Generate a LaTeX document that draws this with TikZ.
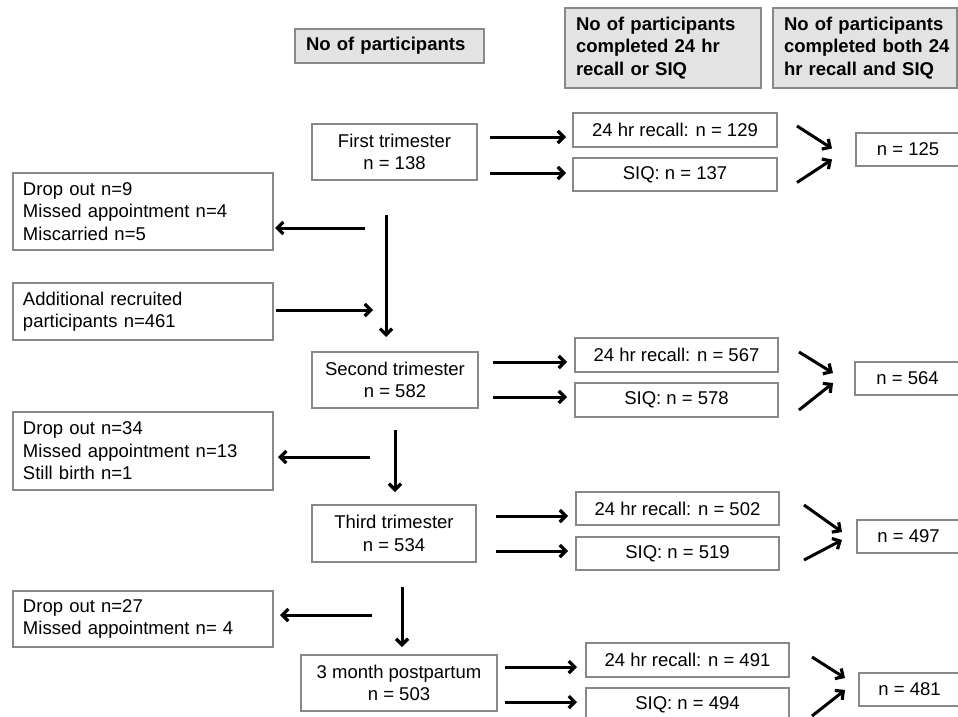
\documentclass[tikz,border=0pt]{standalone}
\usepackage{fontspec}
\setmainfont{Liberation Sans}
\usetikzlibrary{arrows.meta,calc}
\definecolor{bgray}{HTML}{888888}
\definecolor{hfill}{HTML}{E3E3E3}
\newcommand\fs{\fontsize{18.5}{22.5}\selectfont}
\newcommand\mybox[7]{\node[#1, minimum width={(#5-#3)*1pt}, minimum height={(#6-#4)*1pt}] (#2) at (#3,#4) {#7};}
\tikzset{
  box/.style={draw=bgray, line width=2pt, anchor=north west, inner xsep=10pt, inner ysep=0pt,
    outer sep=0pt, font=\fs, align=center},
  lbox/.style={box, align=left},
  hdr/.style={box, fill=hfill, line width=2.6pt, font=\fs\bfseries, align=left},
  arr/.style={-{Straight Barb[length=6pt,width=12pt,line width=3.2pt]}, line width=3pt, black},
}
\begin{document}
\begin{tikzpicture}[x=1pt,y=-1pt]
\clip (0,0) rectangle (958,717);
% headers
\mybox{hdr, text width=167pt}{h1}{295}{29}{484}{63}{No of participants}
\mybox{hdr, text width=174pt}{h2}{565}{8}{761}{88}{\mbox{No of participants}\\\mbox{completed 24 hr}\\\mbox{recall or SIQ}}
\mybox{hdr, text width=162pt, inner xsep=11pt}{h3}{773}{8}{957}{88}{\mbox{No of participants}\\\mbox{completed both 24}\\\mbox{hr recall and SIQ}}
% row 1
\mybox{box}{ft}{312}{124}{477}{180}{First trimester\\n = 138}
\mybox{box}{r1a}{573}{113}{777}{147}{24 hr recall: n = 129}
\mybox{box}{r1b}{573}{158}{777}{191}{SIQ: n = 137}
\mybox{box}{b1}{856}{133}{960}{166}{n = 125}
\mybox{lbox, text width=240pt}{d1}{13}{173}{273}{250}{Drop out n=9\\Missed appointment n=4\\Miscarried n=5}
\mybox{lbox, text width=240pt}{add}{13}{283}{273}{340}{Additional recruited\\participants n=461}
% row 2
\mybox{box}{st}{312}{352}{478}{408}{Second trimester\\n = 582}
\mybox{box}{r2a}{575}{338}{778}{372}{24 hr recall: n = 567}
\mybox{box}{r2b}{575}{383}{778}{417}{SIQ: n = 578}
\mybox{box}{b2}{855}{362}{960}{395}{n = 564}
\mybox{lbox, text width=240pt}{d2}{13}{412}{273}{490}{Drop out n=34\\Missed appointment n=13\\Still birth n=1}
% row 3
\mybox{box}{tt}{312}{505}{476}{562}{Third trimester\\n = 534}
\mybox{box}{r3a}{576}{492}{779}{525}{24 hr recall: n = 502}
\mybox{box}{r3b}{576}{537}{779}{570}{SIQ: n = 519}
\mybox{box}{b3}{857}{520}{960}{553}{n = 497}
\mybox{lbox, text width=240pt}{d3}{13}{591}{273}{647}{Drop out n=27\\Missed appointment n= 4}
% row 4
\mybox{box}{pp}{301}{655}{497}{711}{3 month postpartum\\n = 503}
\mybox{box}{r4a}{586}{643}{789}{677}{24 hr recall: n = 491}
\mybox{box}{r4b}{586}{688}{789}{722}{SIQ: n = 494}
\mybox{box}{b4}{859}{673}{960}{706}{n = 481}
% arrows row 1
\draw[arr, shorten <=13pt, shorten >=7pt] (ft.east |- 0,137) -- (r1a.west |- 0,137);
\draw[arr, shorten <=13pt, shorten >=7pt] (ft.east |- 0,173) -- (r1b.west |- 0,173);
\draw[arr] ($(r1a.east)+(20,-4)$) -- ($(b1.west)+(-24,-1)$);
\draw[arr] ($(r1b.east)+(20,8)$) -- ($(b1.west)+(-24,10)$);
\draw[arr, shorten >=15pt] (386,215) -- (st.north -| 386,0);
\draw[arr, shorten >=2pt] (365,228) -- (d1.east |- 0,228);
\draw[arr, shorten <=3pt] (add.east |- 0,310) -- (373,310);
% arrows row 2
\draw[arr, shorten <=15pt, shorten >=8pt] (st.east |- 0,362) -- (r2a.west |- 0,362);
\draw[arr, shorten <=15pt, shorten >=8pt] (st.east |- 0,397) -- (r2b.west |- 0,397);
\draw[arr] ($(r2a.east)+(21,-3)$) -- ($(b2.west)+(-22,-5.5)$);
\draw[arr] ($(r2b.east)+(21,10)$) -- ($(b2.west)+(-22,4.5)$);
\draw[arr, shorten >=13pt] (395,430) -- (tt.north -| 395,0);
\draw[arr, shorten >=5pt] (370,457) -- (d2.east |- 0,457);
% arrows row 3
\draw[arr, shorten <=20pt, shorten >=8pt] (tt.east |- 0,516) -- (r3a.west |- 0,516);
\draw[arr, shorten <=20pt, shorten >=8pt] (tt.east |- 0,551) -- (r3b.west |- 0,551);
\draw[arr] ($(r3a.east)+(25,-3.5)$) -- ($(b3.west)+(-15,-4.5)$);
\draw[arr] ($(r3b.east)+(25,6.5)$) -- ($(b3.west)+(-15,3.5)$);
\draw[arr, shorten >=8pt] (402,587) -- (pp.north -| 402,0);
\draw[arr, shorten >=7pt] (372,615) -- (d3.east |- 0,615);
% arrows row 4
\draw[arr, shorten <=8pt, shorten >=9pt] (pp.east |- 0,667) -- (r4a.west |- 0,667);
\draw[arr, shorten <=8pt, shorten >=9pt] (pp.east |- 0,702) -- (r4b.west |- 0,702);
\draw[arr] ($(r4a.east)+(23,-3)$) -- ($(b4.west)+(-14,-11.5)$);
\draw[arr] ($(r4b.east)+(23,11)$) -- ($(b4.west)+(-14,0.5)$);
\end{tikzpicture}
\end{document}
